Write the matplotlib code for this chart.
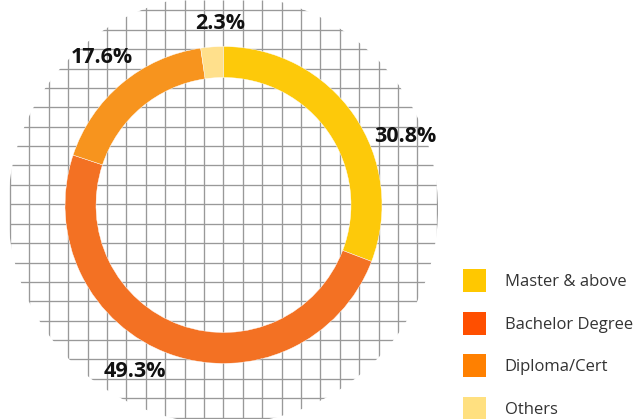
import matplotlib
matplotlib.use("Agg")
import matplotlib.pyplot as plt
from matplotlib.patches import Circle, Patch
import numpy as np

# Education level breakdown
categories = ["Master & above", "Bachelor Degree", "Diploma/Cert", "Others"]
shares = [30.8, 49.3, 17.6, 2.3]
value_labels = ["30.8%", "49.3%", "17.6%", "2.3%"]

ring_colors = ["#FDC90A", "#F37123", "#F7941E", "#FFE08C"]
legend_colors = ["#FFC800", "#FF4F00", "#FF8000", "#FFE080"]

W, H = 640, 419
fig = plt.figure(figsize=(W / 100, H / 100), dpi=100)
ax = fig.add_axes([0, 0, 1, 1])
ax.set_xlim(0, W)
ax.set_ylim(0, H)
ax.set_aspect("equal")
ax.axis("off")

def py(y):
    # convert top-down pixel row into data y
    return H - y

# circular graph-paper backdrop
step = 19.4
clip = Circle((223, py(209)), 215, transform=ax.transData)
xs = 10 + step * np.arange(23)
ys = 10.3 + step * np.arange(22)
vl = ax.vlines(xs, 0, H, colors="#999999", linewidth=0.95, zorder=1)
hl = ax.hlines(py(ys), 10, 437, colors="#999999", linewidth=0.95, zorder=1)
vl.set_clip_path(clip)
hl.set_clip_path(clip)

# donut ring
cx, cy, r_out = 223.5, py(205), 158.5
wedges, _ = ax.pie(shares, colors=ring_colors, startangle=90, counterclock=False,
                   center=(cx, cy), radius=r_out, frame=True,
                   wedgeprops=dict(width=31, edgecolor="white", linewidth=0.3))
for w in wedges:
    w.set_zorder(2)
ax.set_xlim(0, W)
ax.set_ylim(0, H)
ax.axis("off")

# percentage labels around the ring (angle in degrees, radius in px)
label_angles = [20.6, 242.0, 129.5, 91.0]
label_radii = [194, 189, 191, 182]
for txt, ang, rad in zip(value_labels, label_angles, label_radii):
    a = np.deg2rad(ang)
    ax.text(cx + rad * np.cos(a), cy + rad * np.sin(a), txt,
            ha="center", va="center", fontsize=15.5, fontweight="bold",
            family="Open Sans", color="#111111", zorder=3)

handles = [Patch(facecolor=c, edgecolor="none") for c in legend_colors]
leg = ax.legend(handles, categories, loc="upper left",
                bbox_to_anchor=(460 / W, 1 - 266 / H), frameon=False,
                prop={"family": "Open Sans", "size": 12},
                handlelength=1.38, handleheight=1.75, handletextpad=1.1,
                labelspacing=1.17, borderaxespad=0, borderpad=0.2)
for t in leg.get_texts():
    t.set_color("#333333")

fig.savefig("out.png", dpi=100)
